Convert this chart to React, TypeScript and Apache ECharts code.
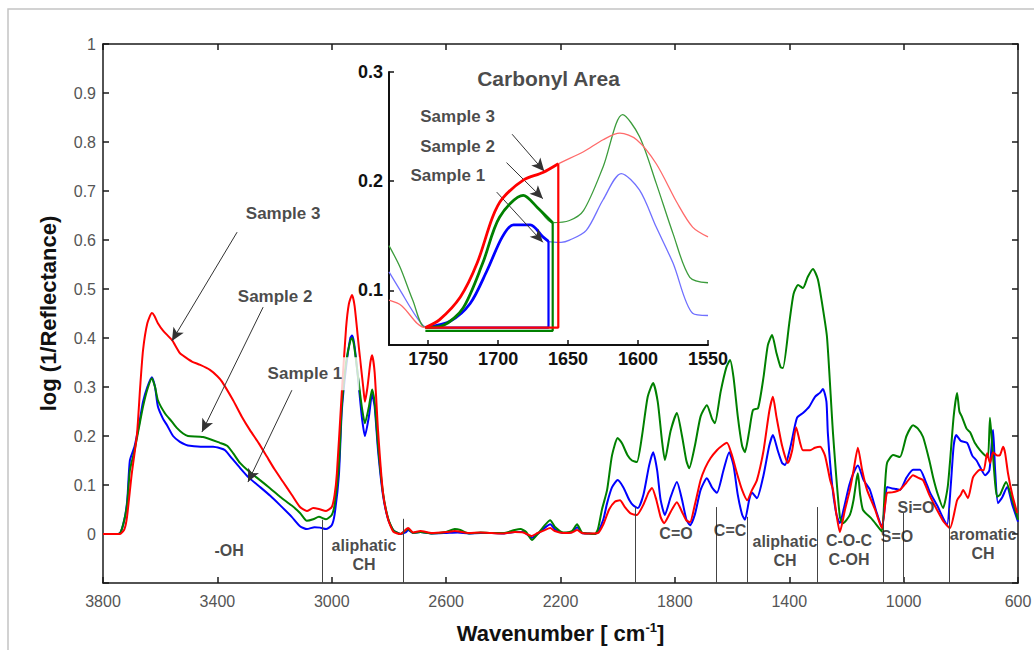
import React, { useEffect, useRef } from "react";
import * as echarts from "echarts";

const FONT = "'Liberation Sans', Arial, Helvetica, sans-serif";

// ---------- axes ----------
const xTickValues = [3800, 3400, 3000, 2600, 2200, 1800, 1400, 1000, 600];
const insetXTicks = [1750, 1700, 1650, 1600, 1550];
const insetYTicks = [0.1, 0.2, 0.3];

// ---------- main spectra [wavenumber, log(1/R)] ----------
const sample1: number[][] = [
  [3800, 0], [3760, 0], [3740, 0.002], [3725, 0.03], [3715, 0.07], [3706, 0.15], [3690, 0.178],
  [3675, 0.22], [3660, 0.27], [3645, 0.3], [3629, 0.32], [3618, 0.3], [3608, 0.26], [3590, 0.235],
  [3576, 0.222], [3555, 0.2], [3531, 0.188], [3510, 0.182], [3496, 0.18], [3450, 0.178], [3415, 0.178],
  [3390, 0.175], [3373, 0.171], [3350, 0.155], [3321, 0.135], [3290, 0.115], [3251, 0.096], [3215, 0.078],
  [3181, 0.059], [3140, 0.035], [3111, 0.016], [3087, 0.01], [3060, 0.014], [3041, 0.013], [3020, 0.01],
  [3000, 0.018], [2990, 0.04], [2975, 0.12], [2965, 0.25], [2950, 0.34], [2935, 0.4], [2929, 0.405],
  [2922, 0.39], [2910, 0.33], [2895, 0.24], [2884, 0.2], [2870, 0.24], [2859, 0.285], [2850, 0.26],
  [2838, 0.17], [2821, 0.08], [2803, 0.03], [2785, 0.008], [2760, 0], [2740, 0.004], [2733, 0.008],
  [2715, 0.002], [2690, 0.004], [2650, 0.001], [2600, 0.002], [2560, 0.003], [2520, 0.001], [2480, 0.002],
  [2440, 0.002], [2400, 0.001], [2360, 0.004], [2330, 0.004], [2300, -0.008], [2280, 0], [2250, 0.015],
  [2236, 0.02], [2220, 0.01], [2190, 0.002], [2160, 0.004], [2142, 0.014], [2125, 0.002], [2100, 0.001],
  [2080, 0], [2069, 0.004], [2050, 0.03], [2037, 0.063], [2020, 0.095], [2000, 0.11], [1980, 0.095],
  [1960, 0.07], [1945, 0.058], [1929, 0.053], [1910, 0.08], [1890, 0.14], [1876, 0.167], [1862, 0.13],
  [1850, 0.07], [1835, 0.039], [1815, 0.075], [1793, 0.106], [1775, 0.07], [1760, 0.03], [1747, 0.018],
  [1730, 0.04], [1710, 0.09], [1688, 0.114], [1670, 0.095], [1653, 0.084], [1630, 0.13], [1610, 0.167],
  [1595, 0.14], [1580, 0.08], [1565, 0.04], [1555, 0.029], [1540, 0.07], [1530, 0.084], [1513, 0.073],
  [1490, 0.12], [1470, 0.18], [1457, 0.202], [1440, 0.17], [1425, 0.145], [1415, 0.141], [1395, 0.18],
  [1373, 0.237], [1352, 0.247], [1330, 0.26], [1310, 0.28], [1293, 0.288], [1282, 0.296], [1270, 0.27],
  [1265, 0.206], [1250, 0.1], [1235, 0.04], [1223, 0.022], [1210, 0.05], [1190, 0.1], [1175, 0.125],
  [1160, 0.14], [1140, 0.11], [1118, 0.09], [1095, 0.045], [1076, 0.014], [1065, 0.06], [1058, 0.096],
  [1040, 0.093], [1025, 0.092], [1013, 0.09], [990, 0.115], [967, 0.131], [943, 0.131], [925, 0.11],
  [908, 0.085], [880, 0.055], [860, 0.03], [848, 0.018], [835, 0.1], [825, 0.18], [816, 0.202],
  [800, 0.19], [778, 0.186], [760, 0.16], [745, 0.15], [733, 0.137], [715, 0.12], [700, 0.13],
  [690, 0.2], [687, 0.212], [680, 0.13], [670, 0.063], [655, 0.075], [638, 0.096], [620, 0.06], [600, 0.025],
];

const sample2: number[][] = [
  [3800, 0], [3760, 0], [3740, 0.002], [3725, 0.03], [3715, 0.065], [3706, 0.13], [3690, 0.17],
  [3675, 0.215], [3660, 0.26], [3645, 0.295], [3629, 0.318], [3618, 0.3], [3608, 0.273], [3583, 0.246],
  [3560, 0.23], [3541, 0.216], [3520, 0.205], [3503, 0.2], [3450, 0.198], [3391, 0.186], [3366, 0.18],
  [3345, 0.165], [3321, 0.145], [3290, 0.128], [3251, 0.11], [3215, 0.093], [3181, 0.076], [3140, 0.058],
  [3111, 0.043], [3087, 0.027], [3065, 0.03], [3045, 0.035], [3020, 0.03], [3000, 0.039], [2990, 0.06],
  [2975, 0.14], [2965, 0.26], [2950, 0.35], [2935, 0.395], [2929, 0.4], [2922, 0.385], [2910, 0.33],
  [2895, 0.26], [2884, 0.226], [2870, 0.26], [2859, 0.295], [2850, 0.27], [2838, 0.18], [2821, 0.085],
  [2803, 0.032], [2785, 0.008], [2760, 0], [2733, 0.01], [2715, 0.002], [2690, 0.004], [2650, 0.001],
  [2600, 0.004], [2570, 0.01], [2550, 0.008], [2520, 0.001], [2480, 0.003], [2440, 0.002], [2400, 0.002],
  [2360, 0.008], [2340, 0.01], [2320, 0.004], [2300, -0.012], [2280, 0], [2255, 0.018], [2236, 0.028],
  [2220, 0.015], [2190, 0.003], [2160, 0.006], [2142, 0.02], [2125, 0.003], [2100, 0.001], [2080, 0],
  [2069, 0.01], [2055, 0.05], [2037, 0.09], [2020, 0.16], [2000, 0.196], [1985, 0.185], [1965, 0.16],
  [1950, 0.15], [1933, 0.147], [1915, 0.2], [1895, 0.28], [1876, 0.308], [1860, 0.27], [1845, 0.19],
  [1835, 0.151], [1815, 0.21], [1793, 0.247], [1775, 0.2], [1760, 0.15], [1750, 0.134], [1730, 0.18],
  [1710, 0.24], [1688, 0.263], [1670, 0.235], [1660, 0.226], [1640, 0.29], [1620, 0.34], [1607, 0.355],
  [1595, 0.32], [1580, 0.24], [1565, 0.18], [1555, 0.167], [1540, 0.21], [1527, 0.253], [1509, 0.257],
  [1490, 0.32], [1475, 0.385], [1460, 0.406], [1445, 0.37], [1430, 0.34], [1422, 0.339], [1400, 0.43],
  [1385, 0.49], [1369, 0.508], [1352, 0.502], [1335, 0.525], [1317, 0.541], [1300, 0.52], [1285, 0.47],
  [1268, 0.402], [1247, 0.206], [1223, 0.035], [1212, 0.022], [1188, 0.039], [1175, 0.07], [1165, 0.11],
  [1160, 0.124], [1152, 0.08], [1142, 0.049], [1110, 0.03], [1090, 0.015], [1076, 0.005], [1065, 0.1],
  [1058, 0.145], [1037, 0.161], [1013, 0.157], [990, 0.2], [967, 0.222], [950, 0.215], [932, 0.198],
  [910, 0.15], [897, 0.116], [880, 0.08], [862, 0.053], [845, 0.1], [825, 0.24], [813, 0.288],
  [805, 0.25], [796, 0.239], [780, 0.215], [768, 0.208], [750, 0.185], [733, 0.171], [715, 0.16],
  [705, 0.157], [698, 0.237], [690, 0.18], [680, 0.104], [673, 0.076], [663, 0.08], [642, 0.106],
  [620, 0.07], [600, 0.029],
];

const sample3: number[][] = [
  [3800, 0], [3740, 0], [3725, 0.01], [3716, 0.035], [3700, 0.12], [3681, 0.205], [3670, 0.3],
  [3660, 0.375], [3645, 0.43], [3629, 0.451], [3620, 0.445], [3608, 0.43], [3590, 0.415], [3559, 0.396],
  [3531, 0.369], [3510, 0.36], [3489, 0.352], [3460, 0.345], [3426, 0.335], [3400, 0.322], [3384, 0.311],
  [3345, 0.273], [3315, 0.24], [3286, 0.212], [3255, 0.185], [3227, 0.158], [3200, 0.132], [3170, 0.106],
  [3140, 0.08], [3111, 0.055], [3087, 0.047], [3065, 0.053], [3045, 0.051], [3020, 0.047], [3000, 0.055],
  [2990, 0.08], [2982, 0.124], [2965, 0.288], [2950, 0.42], [2940, 0.47], [2929, 0.488], [2920, 0.465],
  [2905, 0.38], [2890, 0.3], [2884, 0.27], [2875, 0.3], [2865, 0.35], [2859, 0.365], [2850, 0.33],
  [2838, 0.21], [2821, 0.085], [2803, 0.03], [2785, 0.005], [2760, 0], [2733, 0.012], [2715, 0.003],
  [2690, 0.006], [2650, 0.002], [2600, 0.004], [2570, 0.006], [2520, 0.002], [2480, 0.003], [2440, 0.002],
  [2400, 0.001], [2360, 0.004], [2330, 0.003], [2300, -0.004], [2280, 0.002], [2255, 0.008], [2236, 0.012],
  [2220, 0.006], [2190, 0.002], [2160, 0.003], [2142, 0.008], [2125, 0.002], [2100, 0.001], [2069, 0.002],
  [2050, 0.02], [2030, 0.05], [2010, 0.066], [1992, 0.069], [1975, 0.055], [1955, 0.042], [1933, 0.039],
  [1910, 0.06], [1892, 0.085], [1880, 0.094], [1865, 0.07], [1850, 0.035], [1838, 0.022], [1815, 0.045],
  [1793, 0.065], [1775, 0.045], [1760, 0.028], [1747, 0.024], [1730, 0.06], [1710, 0.11], [1694, 0.135],
  [1675, 0.155], [1653, 0.171], [1635, 0.18], [1618, 0.186], [1600, 0.16], [1583, 0.124], [1565, 0.09],
  [1547, 0.069], [1530, 0.09], [1513, 0.11], [1490, 0.17], [1470, 0.25], [1457, 0.28], [1445, 0.24],
  [1425, 0.18], [1405, 0.145], [1390, 0.17], [1376, 0.218], [1362, 0.186], [1352, 0.171], [1327, 0.171],
  [1310, 0.176], [1292, 0.178], [1275, 0.16], [1257, 0.11], [1247, 0.09], [1235, 0.04], [1223, 0.004],
  [1205, 0.05], [1188, 0.09], [1175, 0.13], [1160, 0.176], [1145, 0.13], [1128, 0.09], [1100, 0.05],
  [1076, 0.012], [1058, 0.084], [1040, 0.085], [1013, 0.09], [990, 0.105], [967, 0.12], [950, 0.115],
  [932, 0.11], [910, 0.08], [883, 0.049], [860, 0.025], [838, 0.012], [813, 0.069], [800, 0.08],
  [792, 0.09], [775, 0.073], [757, 0.116], [733, 0.131], [720, 0.13], [708, 0.165], [698, 0.145],
  [687, 0.167], [673, 0.16], [663, 0.161], [652, 0.178], [645, 0.165], [635, 0.124], [620, 0.08], [603, 0.043],
];

// ---------- carbonyl inset [wavenumber, log(1/R)] ----------
const inset1: number[][] = [
  [1778, 0.117], [1770, 0.1], [1758, 0.075], [1751, 0.066], [1734, 0.072], [1720, 0.088], [1708, 0.118],
  [1697, 0.149], [1689, 0.16], [1677, 0.16], [1668, 0.149], [1664, 0.145], [1655, 0.144], [1649, 0.146],
  [1637, 0.155], [1625, 0.183], [1612, 0.207], [1599, 0.192], [1587, 0.158], [1575, 0.125], [1561, 0.079],
  [1550, 0.077],
];
const inset2: number[][] = [
  [1778, 0.141], [1770, 0.121], [1761, 0.091], [1752, 0.066], [1739, 0.068], [1725, 0.084], [1711, 0.125],
  [1699, 0.167], [1682, 0.187], [1672, 0.176], [1661, 0.162], [1649, 0.164], [1639, 0.173], [1625, 0.213],
  [1611, 0.261], [1599, 0.241], [1587, 0.198], [1575, 0.152], [1563, 0.112], [1550, 0.107],
];
const inset3: number[][] = [
  [1778, 0.091], [1769, 0.086], [1758, 0.07], [1752, 0.066], [1742, 0.073], [1727, 0.094], [1715, 0.125],
  [1704, 0.167], [1697, 0.184], [1682, 0.201], [1668, 0.208], [1657, 0.216], [1639, 0.227], [1625, 0.238],
  [1613, 0.244], [1601, 0.238], [1587, 0.216], [1572, 0.18], [1561, 0.158], [1550, 0.149],
];
// integration area of each sample: start, end wavenumber and baseline level
const areaStart = [1751, 1752, 1752];
const areaEnd = [1664, 1661, 1657];
const areaBase = [0.066, 0.063, 0.066];

// ---------- annotations ----------
const bandLineWn = [3034, 2751, 1939, 1656, 1547, 1303, 1072, 1003, 841];
const bandLineTop = [0.029, 0.031, 0.055, 0.055, 0.035, 0.055, 0.055, 0.043, 0.053];
const bandLabels = ["-OH", "aliphatic\nCH", "C=O", "C=C", "aliphatic\nCH", "C-O-C\nC-OH", "S=O", "Si=O", "aromatic\nCH"];
const bandLabelWn = [3359, 2887, 1796, 1607, 1415, 1191, 1023, 957, 722];
const bandLabelY = [-0.033, -0.043, 0.002, 0.008, -0.035, -0.033, -0.006, 0.055, -0.02];

const sampleNames = ["Sample 1", "Sample 2", "Sample 3"];
const mainLabelWn = [3071, 3198, 3170];
const mainLabelY = [0.327, 0.484, 0.655];
const mainArrowFrom = [[3139, 0.294], [3240, 0.463], [3331, 0.616]];
const mainArrowTo = [[3293, 0.106], [3454, 0.208], [3559, 0.394]];

const insetLabelWn = [1736, 1729, 1729];
const insetLabelY = [0.2055, 0.232, 0.259];
const insetArrowFrom = [[1701, 0.19], [1694, 0.217], [1690, 0.243]];
const insetArrowTo = [[1668, 0.144], [1668, 0.184], [1667, 0.209]];

const COLORS = ["#0000ff", "#008000", "#ff0000"];
const THIN = ["#7070ff", "#3c9c3c", "#ff6a6a"];

export default function App() {
  const ref = useRef<HTMLDivElement>(null);

  useEffect(() => {
    if (!ref.current) return;
    const chart = echarts.init(ref.current, null, { renderer: "svg" });
    const mainData = [sample1, sample2, sample3];
    const insetData = [inset1, inset2, inset3];

    const axisLine = { show: true, onZero: false, lineStyle: { color: "#1a1a1a", width: 1.5 } };
    const tickStyle = { show: true, inside: true, length: 6, lineStyle: { color: "#1a1a1a", width: 1.5 } };
    const grayLabel = { color: "#555", fontSize: 16, fontFamily: FONT };
    const boldLabel = { color: "#111", fontSize: 18, fontWeight: "bold", fontFamily: FONT };
    const plain = (v: number) => String(Math.round(v * 10) / 10);

    const series: any[] = [];
    // main spectra
    mainData.forEach((d, i) => {
      series.push({
        type: "line", xAxisIndex: 0, yAxisIndex: 0, data: d, showSymbol: false, smooth: 0.2,
        lineStyle: { color: COLORS[i], width: 2 }, z: 3, silent: true,
      });
    });
    // band separators
    series.push({
      type: "line", xAxisIndex: 0, yAxisIndex: 0, data: [], silent: true,
      markLine: {
        silent: true, symbol: ["none", "none"], label: { show: false },
        lineStyle: { color: "#444", width: 1, type: "solid" },
        data: bandLineWn.map((w, i) => [{ coord: [w, -0.1] }, { coord: [w, bandLineTop[i]] }]),
      },
    });
    // band labels
    series.push({
      type: "scatter", xAxisIndex: 0, yAxisIndex: 0, symbolSize: 0, silent: true, z: 6,
      data: bandLabels.map((t, i) => ({ value: [bandLabelWn[i], bandLabelY[i]], name: t })),
      label: {
        show: true, position: "inside", formatter: (p: any) => p.name,
        color: "#1a1a1a", fontSize: 16, fontWeight: "bold", fontFamily: FONT, lineHeight: 19, align: "center",
      },
    });
    // main sample labels + arrows
    series.push({
      type: "scatter", xAxisIndex: 0, yAxisIndex: 0, symbolSize: 0, silent: true, z: 10,
      data: sampleNames.map((t, i) => ({
        value: [mainLabelWn[i], mainLabelY[i]], name: t,
        label: i === 0 ? { backgroundColor: "#fff", padding: [8, 17, 8, 4] } : {},
      })),
      label: {
        show: true, position: "inside", formatter: (p: any) => p.name,
        color: "#1a1a1a", fontSize: 17, fontWeight: "bold", fontFamily: FONT,
      },
      markLine: {
        silent: true, symbol: ["none", "arrow"], symbolSize: [9, 13], label: { show: false },
        lineStyle: { color: "#333", width: 1, type: "solid" },
        data: mainArrowFrom.map((f, i) => [{ coord: f }, { coord: mainArrowTo[i] }]),
      },
    });
    // inset thin curves
    insetData.forEach((d, i) => {
      series.push({
        type: "line", xAxisIndex: 2, yAxisIndex: 2, data: d, showSymbol: false, smooth: 0.3,
        lineStyle: { color: THIN[i], width: 1.3 }, z: 3, silent: true,
      });
    });
    // inset highlighted integration areas
    insetData.forEach((d, i) => {
      const part = d.filter((p) => p[0] <= areaStart[i] && p[0] >= areaEnd[i]);
      const top = d.find((p) => p[0] === areaEnd[i]) as number[];
      series.push({
        type: "line", xAxisIndex: 2, yAxisIndex: 2, data: part, showSymbol: false, smooth: 0.3,
        lineStyle: { color: COLORS[i], width: 2.8 }, z: 4 + i, silent: true,
      });
      series.push({
        type: "line", xAxisIndex: 2, yAxisIndex: 2, showSymbol: false, smooth: false,
        data: [[areaStart[i], areaBase[i]], [areaEnd[i], areaBase[i]], [areaEnd[i], top[1]]],
        lineStyle: { color: COLORS[i], width: 2.2 }, z: 4 + i, silent: true, clip: false,
      });
    });
    // inset labels + arrows + title
    series.push({
      type: "scatter", xAxisIndex: 2, yAxisIndex: 2, symbolSize: 0, silent: true, z: 10,
      data: [
        ...sampleNames.map((t, i) => ({ value: [insetLabelWn[i], insetLabelY[i]], name: t })),
        { value: [1664, 0.2945], name: "Carbonyl Area", label: { fontSize: 21 } },
      ],
      label: {
        show: true, position: "inside", formatter: (p: any) => p.name,
        color: "#1a1a1a", fontSize: 17, fontWeight: "bold", fontFamily: FONT,
      },
      markLine: {
        silent: true, symbol: ["none", "arrow"], symbolSize: [9, 13], label: { show: false },
        lineStyle: { color: "#333", width: 1, type: "solid" },
        data: insetArrowFrom.map((f, i) => [{ coord: f }, { coord: insetArrowTo[i] }]),
      },
    });

    chart.setOption({
      animation: false,
      backgroundColor: "#fff",
      textStyle: { fontFamily: FONT },
      graphic: [
        { type: "rect", shape: { x: 8, y: 9, width: 1200, height: 800 }, style: { fill: "none", stroke: "#c4c4c4", lineWidth: 1.5 }, silent: true },
      ],
      grid: [
        { left: 103, top: 44, width: 915, height: 539, containLabel: false, outerBoundsMode: "none" },
        { left: 389, top: 72, width: 319, height: 273, containLabel: false, outerBoundsMode: "none" },
      ],
      xAxis: [
        {
          type: "value", gridIndex: 0, position: "bottom", min: 600, max: 3800, inverse: true,
          axisLine, axisTick: { ...tickStyle, customValues: xTickValues },
          axisLabel: { ...grayLabel, margin: 10, customValues: xTickValues, showMinLabel: true, showMaxLabel: true, formatter: (v: number) => String(v) },
          splitLine: { show: false },
          name: "{a|Wavenumber [ cm}{s|-1}{a|]}", nameLocation: "middle", nameGap: 38,
          nameTextStyle: {
            rich: {
              a: { fontSize: 22, fontWeight: "bold", color: "#111", fontFamily: FONT },
              s: { fontSize: 13, fontWeight: "bold", color: "#111", fontFamily: FONT, padding: [0, 0, 12, 0] },
            },
          },
        },
        {
          type: "value", gridIndex: 0, position: "top", min: 600, max: 3800, inverse: true,
          axisLine, axisTick: { ...tickStyle, customValues: xTickValues },
          axisLabel: { show: false }, splitLine: { show: false },
        },
        {
          type: "value", gridIndex: 1, position: "bottom", min: 1550, max: 1778, inverse: true,
          axisLine: { show: true, onZero: false, lineStyle: { color: "#111", width: 2 } },
          axisTick: { show: true, inside: true, length: 5, customValues: insetXTicks, lineStyle: { color: "#111", width: 1.5 } },
          axisLabel: { ...boldLabel, margin: 5, customValues: insetXTicks, showMinLabel: true, showMaxLabel: true, formatter: (v: number) => String(v) },
          splitLine: { show: false },
        },
      ],
      yAxis: [
        {
          type: "value", gridIndex: 0, position: "left", min: -0.1, max: 1, interval: 0.1,
          axisLine, axisTick: tickStyle,
          axisLabel: { ...grayLabel, margin: 7, formatter: (v: number) => (v < -0.05 ? "" : plain(v)) },
          splitLine: { show: false },
          name: "log (1/Reflectance)", nameLocation: "middle", nameGap: 44,
          nameTextStyle: { fontSize: 22, fontWeight: "bold", color: "#111", fontFamily: FONT },
        },
        {
          type: "value", gridIndex: 0, position: "right", min: -0.1, max: 1, interval: 0.1,
          axisLine, axisTick: tickStyle, axisLabel: { show: false }, splitLine: { show: false },
        },
        {
          type: "value", gridIndex: 1, position: "left", min: 0.05, max: 0.3,
          axisLine: { show: true, onZero: false, lineStyle: { color: "#111", width: 2 } },
          axisTick: { show: true, inside: true, length: 5, customValues: insetYTicks, lineStyle: { color: "#111", width: 1.5 } },
          axisLabel: { ...boldLabel, margin: 6, customValues: insetYTicks, formatter: plain },
          splitLine: { show: false },
        },
      ],
      series,
    });
    return () => chart.dispose();
  }, []);

  return <div ref={ref} style={{ position: "fixed", left: 0, top: 0, width: 1034, height: 650 }} />;
}
